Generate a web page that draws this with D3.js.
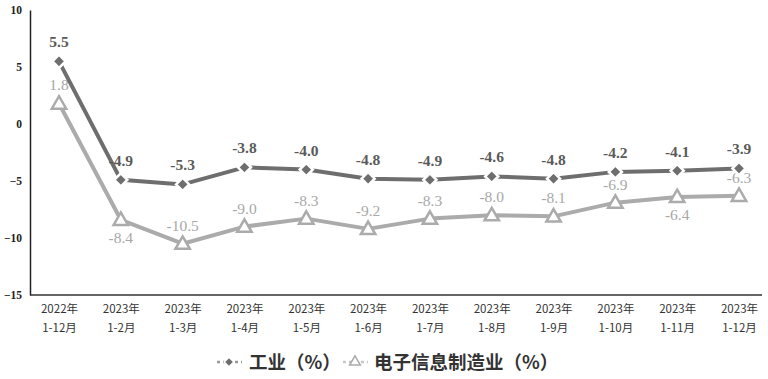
<!DOCTYPE html>
<html><head><meta charset="utf-8">
<script src="https://cdn.jsdelivr.net/npm/d3@7"></script>
<style>body{margin:0;background:#fff}svg{display:block}</style>
</head><body>
<svg id="c" width="768" height="379"></svg>
<script>
const categories = [["2022年","1-12月"],["2023年","1-2月"],["2023年","1-3月"],["2023年","1-4月"],["2023年","1-5月"],["2023年","1-6月"],["2023年","1-7月"],["2023年","1-8月"],["2023年","1-9月"],["2023年","1-10月"],["2023年","1-11月"],["2023年","1-12月"]];
const industry = [5.5,-4.9,-5.3,-3.8,-4.0,-4.8,-4.9,-4.6,-4.8,-4.2,-4.1,-3.9];
const electronics = [1.8,-8.4,-10.5,-9.0,-8.3,-9.2,-8.3,-8.0,-8.1,-6.9,-6.4,-6.3];
const elecLabelBelow = [false,true,false,false,false,false,false,false,false,false,true,false];
const yTicks = [10,5,0,-5,-10,-15];
const seriesNames = ["工业（%）","电子信息制造业（%）"];

const svg = d3.select("#c");
const x = d3.scalePoint().domain(d3.range(categories.length)).range([59, 739]);
const y = d3.scaleLinear().domain([-15,10]).range([295,10]);
const serif = "'Liberation Serif','Times New Roman',serif";
const sans = "'Noto Sans CJK SC','Noto Sans',sans-serif";
const darkC = "#6e6e6e", lightC = "#ababab";

// y axis
const ya = svg.append("g").attr("transform","translate(30,0)")
  .call(d3.axisLeft(y).tickValues(yTicks).tickSize(0).tickPadding(8).tickFormat(d3.format("d")));
ya.select(".domain").attr("stroke","#222").attr("stroke-width",1.5);
ya.selectAll("text").attr("font-family",serif).attr("font-weight","bold").attr("font-size",11.5).attr("fill","#222");

// x axis
const xa = svg.append("g").attr("transform","translate(0,295)")
  .call(d3.axisBottom(x).tickSize(0).tickFormat(""));
xa.select(".domain").remove();
svg.append("line").attr("x1",30).attr("x2",762).attr("y1",295).attr("y2",295).attr("stroke","#333").attr("stroke-width",1.5);
xa.selectAll(".tick").each(function(d){
  const t = d3.select(this).append("text").attr("fill","#333").attr("font-family",sans).attr("font-size",11.5).attr("text-anchor","middle");
  t.append("tspan").attr("x",0).attr("y",18).text(categories[d][0]);
  t.append("tspan").attr("x",0).attr("y",37).text(categories[d][1]);
});

const line = d3.line().x((d,i)=>x(i)).y(d=>y(d));

// electronics series
svg.append("path").datum(electronics).attr("d",line).attr("fill","none").attr("stroke",lightC).attr("stroke-width",4).attr("stroke-linejoin","round");
const tri = d3.symbol().type(d3.symbolTriangle).size(90);
svg.selectAll(".tri").data(electronics).enter().append("path")
  .attr("d",tri).attr("transform",(d,i)=>`translate(${x(i)},${y(d)+1})`)
  .attr("fill","#fff").attr("stroke",lightC).attr("stroke-width",2.5);
svg.selectAll(".el").data(electronics).enter().append("text")
  .attr("x",(d,i)=>x(i)).attr("y",(d,i)=>elecLabelBelow[i]? y(d)+23 : y(d)-13)
  .attr("text-anchor","middle").attr("font-family",serif).attr("font-size",15.5).attr("fill","#a8a8a8")
  .text(d=>d.toFixed(1));

// industry series
svg.append("path").datum(industry).attr("d",line).attr("fill","none").attr("stroke",darkC).attr("stroke-width",4).attr("stroke-linejoin","round");
const dia = d3.symbol().type(d3.symbolDiamond2).size(110);
svg.selectAll(".dia").data(industry).enter().append("path")
  .attr("d",dia).attr("transform",(d,i)=>`translate(${x(i)},${y(d)})`)
  .attr("fill",darkC).attr("stroke","#fff").attr("stroke-width",2.5);
svg.selectAll(".il").data(industry).enter().append("text")
  .attr("x",(d,i)=>x(i)).attr("y",d=>y(d)-14)
  .attr("text-anchor","middle").attr("font-family",serif).attr("font-weight","bold").attr("font-size",15.5).attr("fill","#5a5a5a")
  .text(d=>d.toFixed(1));

// legend
const lg = svg.append("g").attr("transform","translate(0,362)");
lg.append("line").attr("x1",217).attr("x2",242).attr("y1",0).attr("y2",0).attr("stroke","#999").attr("stroke-width",2.5).attr("stroke-dasharray","3,3");
lg.append("path").attr("d",d3.symbol().type(d3.symbolDiamond2).size(60)).attr("transform","translate(229,0)").attr("fill",darkC).attr("stroke","#fff").attr("stroke-width",1.5);
lg.append("text").attr("x",249).attr("y",6.5).attr("font-family",sans).attr("font-weight","bold").attr("font-size",18.5).attr("fill","#333").text(seriesNames[0]);
lg.append("line").attr("x1",343).attr("x2",368).attr("y1",0).attr("y2",0).attr("stroke","#c8c8c8").attr("stroke-width",2.5).attr("stroke-dasharray","3,3");
lg.append("path").attr("d",d3.symbol().type(d3.symbolTriangle).size(50)).attr("transform","translate(355,0)").attr("fill","#fff").attr("stroke",lightC).attr("stroke-width",1.5);
lg.append("text").attr("x",374).attr("y",6.5).attr("font-family",sans).attr("font-weight","bold").attr("font-size",18.5).attr("fill","#333").text(seriesNames[1]);
</script>
</body></html>
